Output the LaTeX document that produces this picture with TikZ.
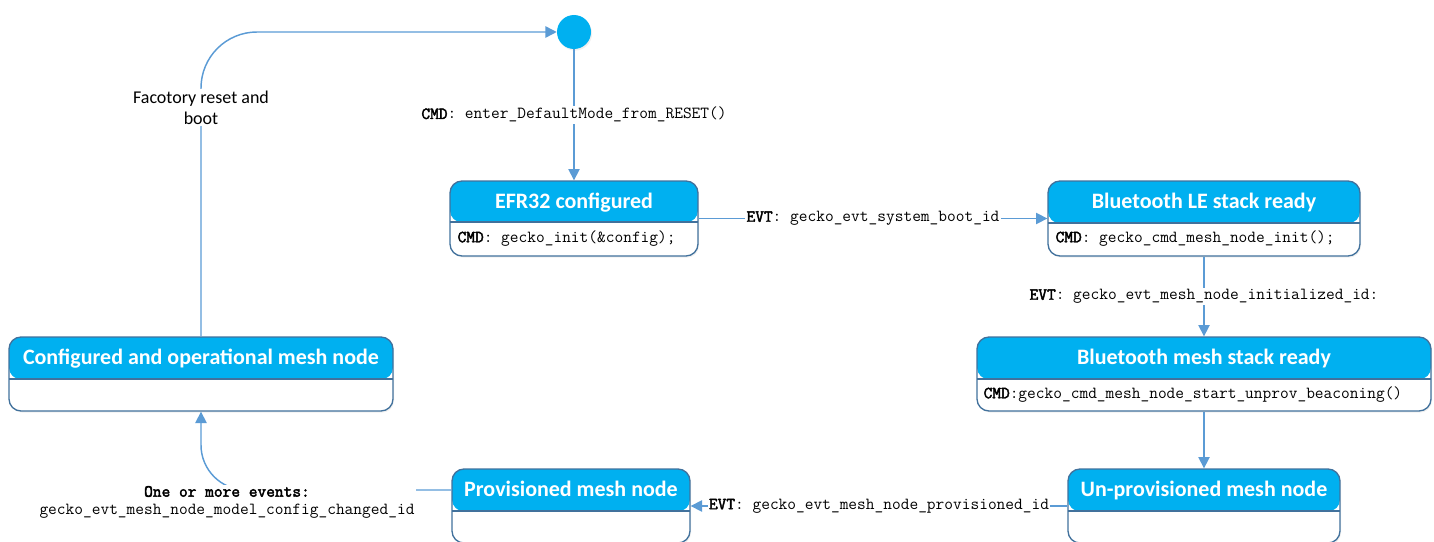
\documentclass[tikz,border=0pt]{standalone}
\usepackage{fontspec}
\setmainfont{Carlito}
\setmonofont{Latin Modern Mono}
\newfontfamily\codebf{Latin Modern Mono}[FakeBold=2.5]
\usetikzlibrary{arrows.meta,calc,shadows}
\definecolor{headblue}{HTML}{00B0F0}
\definecolor{edgeblue}{HTML}{41719C}
\definecolor{connblue}{HTML}{5B9BD5}
\tikzset{
  statebox/.style={draw=edgeblue, line width=1pt, rounded corners=9pt, fill=white, inner sep=0pt,
    drop shadow={opacity=0.12, shadow xshift=0.8pt, shadow yshift=-1.2pt}},
  hdr/.style={path picture={
      \fill[headblue] (path picture bounding box.north west) rectangle ([yshift={-#1-0.3pt}]path picture bounding box.north east);
      \draw[edgeblue,line width=1pt] ([yshift=-#1]path picture bounding box.north west) -- ([yshift=-#1]path picture bounding box.north east);}},
  titletext/.style={font=\bfseries\fontsize{16.5}{19}\selectfont, text=white, inner sep=0pt, anchor=base},
  bodytext/.style={font=\ttfamily\fontsize{12.7}{14}\selectfont, inner sep=0pt, anchor=west},
  connector/.style={draw=connblue, line width=1.1pt, -{Triangle[length=8.5pt,width=8.5pt]}},
  edgelabel/.style={font=\ttfamily\fontsize{12.7}{14}\selectfont, fill=white, inner sep=1pt},
  startdot/.style={circle, fill=headblue, minimum size=25.5pt, inner sep=0pt,
    drop shadow={opacity=0.12, shadow xshift=0.8pt, shadow yshift=-1.2pt}},
}
\begin{document}
\begin{tikzpicture}[x=0.75pt,y=-0.75pt]
\useasboundingbox (0,0) rectangle (1434,542);
% start state
\node[startdot] (start) at (574,32) {};
% states
\node[statebox, hdr=30.75pt, minimum width=186pt, minimum height=56.25pt] (efr) at (574,218.5) {};
\node[titletext] (efrT) at ($(efr.north)+(0,28)$) {EFR32 configured};
\node[bodytext] (efrB) at ($(efr.north west)+(8,58)$) {{\codebf CMD}: gecko\_init(\&config);};

\node[statebox, hdr=31.5pt, minimum width=234pt, minimum height=56.25pt] (ble) at (1204,218.5) {};
\node[titletext] (bleT) at ($(ble.north)+(0,28)$) {Bluetooth LE stack ready};
\node[bodytext] (bleB) at ($(ble.north west)+(8,58)$) {{\codebf CMD}: gecko\_cmd\_mesh\_node\_init();};

\node[statebox, hdr=31.5pt, minimum width=340.5pt, minimum height=55.5pt] (mesh) at (1204,374) {};
\node[titletext] (meshT) at ($(mesh.north)+(0,28)$) {Bluetooth mesh stack ready};
\node[bodytext] (meshB) at ($(mesh.north west)+(7,58)$) {{\codebf CMD}:gecko\_cmd\_mesh\_node\_start\_unprov\_beaconing()};

\node[statebox, hdr=31.5pt, minimum width=288pt, minimum height=55.5pt] (conf) at (201,374) {};
\node[titletext] (confT) at ($(conf.north)+(0,28)$) {Configured and operational mesh node};

\node[statebox, hdr=31.5pt, minimum width=178.5pt, minimum height=55.5pt] (prov) at (571,506) {};
\node[titletext] (provT) at ($(prov.north)+(0,28)$) {Provisioned mesh node};

\node[statebox, hdr=31.5pt, minimum width=204pt, minimum height=55.5pt] (unprov) at (1204,506) {};
\node[titletext] (unprovT) at ($(unprov.north)+(0,28)$) {Un-provisioned mesh node};

% connectors
\draw[connector] (start.south) -- node[edgelabel] (l1) {{\codebf CMD}: enter\_DefaultMode\_from\_RESET()} (efr.north);
\draw[connector] (efr.east) -- node[edgelabel] (l2) {{\codebf EVT}: gecko\_evt\_system\_boot\_id} (ble.west);
\draw[connector] (ble.south) -- node[edgelabel] (l3) {{\codebf EVT}: gecko\_evt\_mesh\_node\_initialized\_id:} (mesh.north);
\draw[connector] (mesh.south) -- (unprov.north);
\draw[connector] (unprov.west) -- node[edgelabel] (l4) {{\codebf EVT}: gecko\_evt\_mesh\_node\_provisioned\_id} (prov.east);
\draw[connector, rounded corners=33.75pt] ($(prov.west)+(0,-16)$) -| (conf.south);
\node[edgelabel, align=center, font=\ttfamily\fontsize{12.7}{13}\selectfont] (l5) at (227,502) {{\codebf One or more events:}\\gecko\_evt\_mesh\_node\_model\_config\_changed\_id};
\draw[connector, rounded corners=42pt] (conf.north) |- (start.west);
\node[fill=white, inner sep=1pt, align=center, font=\fontsize{13.5}{15.75}\selectfont] (l6) at (201,107.5) {Facotory reset and\\boot};
\end{tikzpicture}
\end{document}
